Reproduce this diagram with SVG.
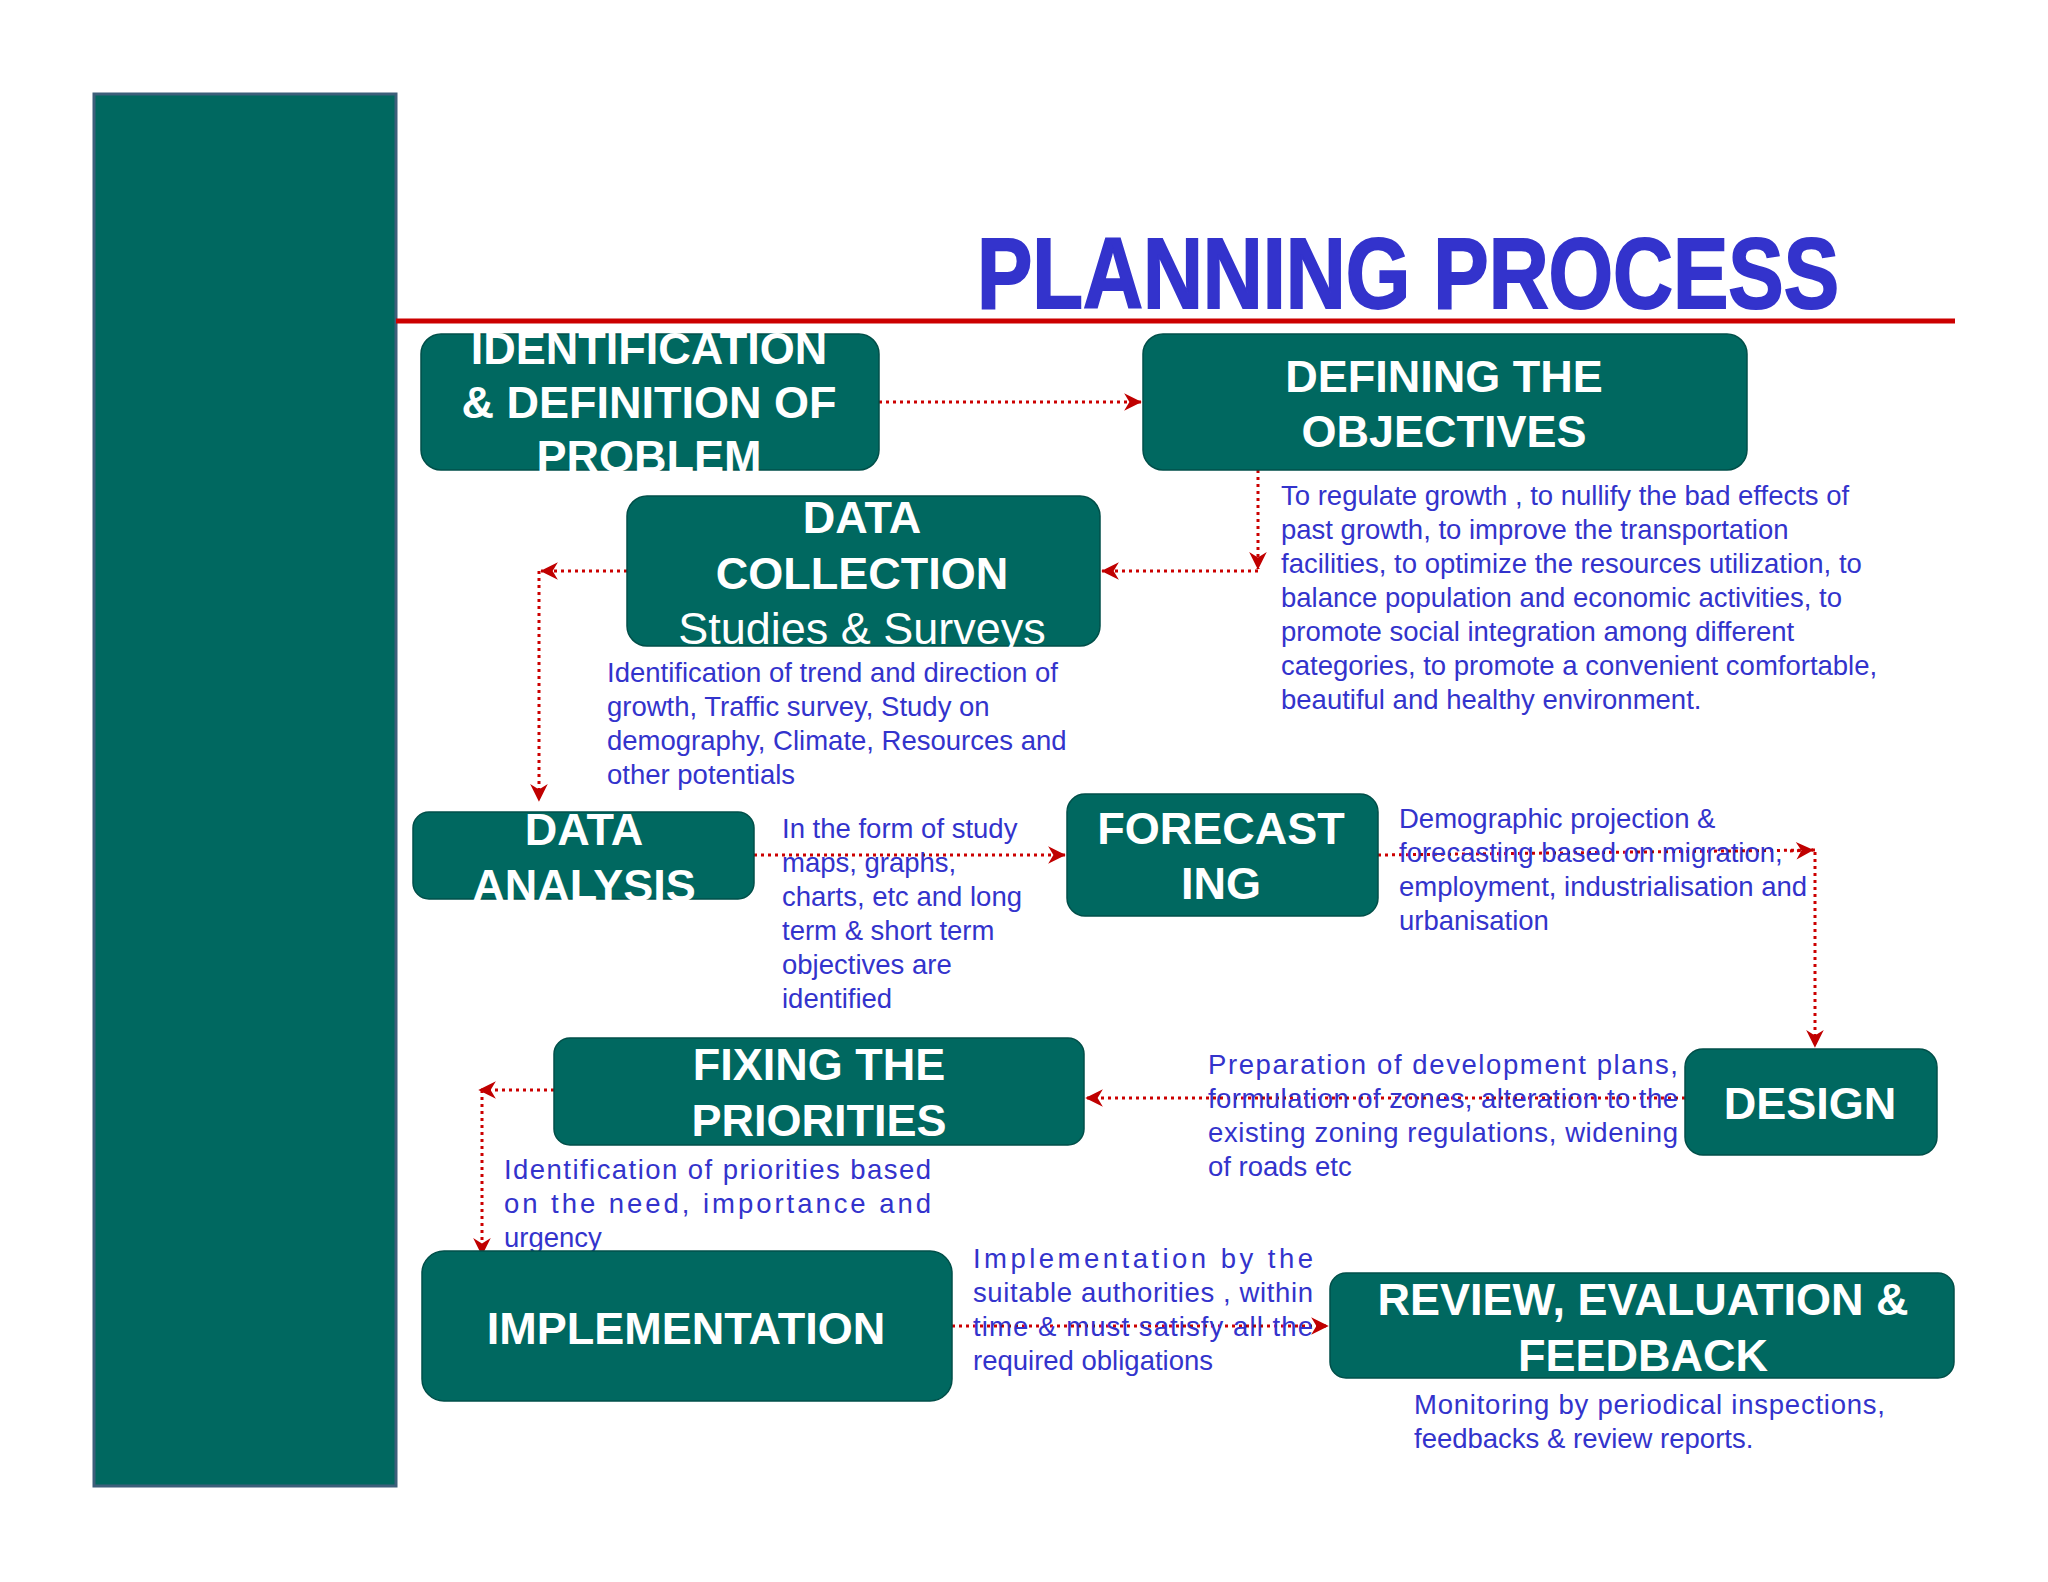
<svg xmlns="http://www.w3.org/2000/svg" width="2048" height="1582" viewBox="0 0 2048 1582">
<defs>
<marker id="ah" viewBox="0 0 10 10" refX="9" refY="5" markerWidth="8" markerHeight="8" markerUnits="userSpaceOnUse" orient="auto" overflow="visible">
<path d="M0,0 L10,5 L0,10 L3,5 Z" fill="#c00000" transform="scale(2.2) translate(-5.5,-2.7)"/>
</marker>
<style>
.box{fill:#006860;stroke:#004f49;stroke-width:1.5}
.bt{font-family:"Liberation Sans",Arial,sans-serif;font-weight:bold;font-size:45px;fill:#fff;text-anchor:middle}
.nt{font-weight:normal}
.d{font-family:"Liberation Sans",Arial,sans-serif;font-size:27.5px;fill:#3333cc}
.c{fill:none;stroke:#cc0000;stroke-width:3;stroke-dasharray:3 4;marker-end:url(#ah)}
.c2{fill:none;stroke:#cc0000;stroke-width:3;stroke-dasharray:3 4}
</style>
</defs>
<rect width="2048" height="1582" fill="#fff"/>
<rect x="94" y="94" width="302" height="1392" fill="#006860" stroke="#3d5f7a" stroke-width="3"/>
<text x="977" y="308" font-family="Liberation Sans,Arial,sans-serif" font-weight="bold" font-size="100" fill="#3333cc" stroke="#3333cc" stroke-width="2" textLength="862" lengthAdjust="spacingAndGlyphs">PLANNING PROCESS</text>
<line x1="396" y1="321" x2="1955" y2="321" stroke="#cc0000" stroke-width="5"/>

<g id="connectors">
<path class="c" d="M879,402 H1141"/>
<path class="c" d="M1258,470 V569"/>
<path class="c" d="M1258,571 H1102"/>
<path class="c" d="M627,571 H541"/>
<path class="c" d="M539,571 V801"/>
<path class="c" d="M754,855 H1065"/>
<path class="c2" d="M1378,855 L1815,850"/>
<path class="c" d="M1790,851 L1813,850"/>
<path class="c" d="M1815,852 V1047"/>
<path class="c" d="M1685,1098 H1086"/>
<path class="c" d="M554,1090 H479"/>
<path class="c" d="M482,1090 V1255"/>
<path class="c" d="M952,1326 H1328"/>
</g>

<g id="n1"><rect class="box" x="421" y="334" width="458" height="136" rx="20"/>
<text class="bt" x="649" y="364">IDENTIFICATION</text><text class="bt" x="649" y="418">&amp; DEFINITION OF</text><text class="bt" x="649" y="472">PROBLEM</text></g>
<g id="n2"><rect class="box" x="1143" y="334" width="604" height="136" rx="20"/>
<text class="bt" x="1444" y="392">DEFINING THE</text><text class="bt" x="1444" y="447">OBJECTIVES</text>
<text class="d" x="1281" y="505">To regulate growth , to nullify the bad effects of</text>
<text class="d" x="1281" y="539">past growth, to improve the transportation</text>
<text class="d" x="1281" y="573">facilities, to optimize the resources utilization, to</text>
<text class="d" x="1281" y="607">balance population and economic activities, to</text>
<text class="d" x="1281" y="641">promote social integration among different</text>
<text class="d" x="1281" y="675">categories, to promote a convenient comfortable,</text>
<text class="d" x="1281" y="709">beautiful and healthy environment.</text></g>
<g id="n3"><rect class="box" x="627" y="496" width="473" height="150" rx="20"/>
<text class="bt" x="862" y="533">DATA</text><text class="bt" x="862" y="589">COLLECTION</text>
<text class="bt nt" x="862" y="644">Studies &amp; Surveys</text>
<text class="d" x="607" y="682">Identification of trend and direction of</text>
<text class="d" x="607" y="716">growth, Traffic survey, Study on</text>
<text class="d" x="607" y="750">demography, Climate, Resources and</text>
<text class="d" x="607" y="784">other potentials</text></g>
<g id="n4"><rect class="box" x="413" y="812" width="341" height="87" rx="16"/>
<text class="bt" x="584" y="845">DATA</text><text class="bt" x="584" y="901">ANALYSIS</text>
<text class="d" x="782" y="838">In the form of study</text>
<text class="d" x="782" y="872">maps, graphs,</text>
<text class="d" x="782" y="906">charts, etc and long</text>
<text class="d" x="782" y="940">term &amp; short term</text>
<text class="d" x="782" y="974">objectives are</text>
<text class="d" x="782" y="1008">identified</text></g>
<g id="n5"><rect class="box" x="1067" y="794" width="311" height="122" rx="18"/>
<text class="bt" x="1221" y="844">FORECAST</text><text class="bt" x="1221" y="899">ING</text>
<text class="d" x="1399" y="828">Demographic projection &amp;</text>
<text class="d" x="1399" y="862">forecasting based on migration,</text>
<text class="d" x="1399" y="896">employment, industrialisation and</text>
<text class="d" x="1399" y="930">urbanisation</text></g>
<g id="n6"><rect class="box" x="1685" y="1049" width="252" height="106" rx="18"/>
<text class="bt" x="1810" y="1119">DESIGN</text>
<text class="d" x="1208" y="1074" textLength="470" lengthAdjust="spacing">Preparation of development plans,</text>
<text class="d" x="1208" y="1108" textLength="470" lengthAdjust="spacing">formulation of zones, alteration to the</text>
<text class="d" x="1208" y="1142" textLength="470" lengthAdjust="spacing">existing zoning regulations, widening</text>
<text class="d" x="1208" y="1176">of roads etc</text></g>
<g id="n7"><rect class="box" x="554" y="1038" width="530" height="107" rx="16"/>
<text class="bt" x="819" y="1080">FIXING THE</text><text class="bt" x="819" y="1136">PRIORITIES</text>
<text class="d" x="504" y="1179" textLength="427" lengthAdjust="spacing">Identification of priorities based</text>
<text class="d" x="504" y="1213" textLength="427" lengthAdjust="spacing">on the need, importance and</text>
<text class="d" x="504" y="1247">urgency</text></g>
<g id="n8"><rect class="box" x="422" y="1251" width="530" height="150" rx="22"/>
<text class="bt" x="686" y="1344">IMPLEMENTATION</text>
<text class="d" x="973" y="1268" textLength="340" lengthAdjust="spacing">Implementation by the</text>
<text class="d" x="973" y="1302" textLength="340" lengthAdjust="spacing">suitable authorities , within</text>
<text class="d" x="973" y="1336" textLength="340" lengthAdjust="spacing">time &amp; must satisfy all the</text>
<text class="d" x="973" y="1370">required obligations</text></g>
<g id="n9"><rect class="box" x="1330" y="1273" width="624" height="105" rx="16"/>
<text class="bt" x="1643" y="1315">REVIEW, EVALUATION &amp;</text><text class="bt" x="1643" y="1371">FEEDBACK</text>
<text class="d" x="1414" y="1414" textLength="471" lengthAdjust="spacing">Monitoring by periodical inspections,</text>
<text class="d" x="1414" y="1448">feedbacks &amp; review reports.</text></g>
</svg>
